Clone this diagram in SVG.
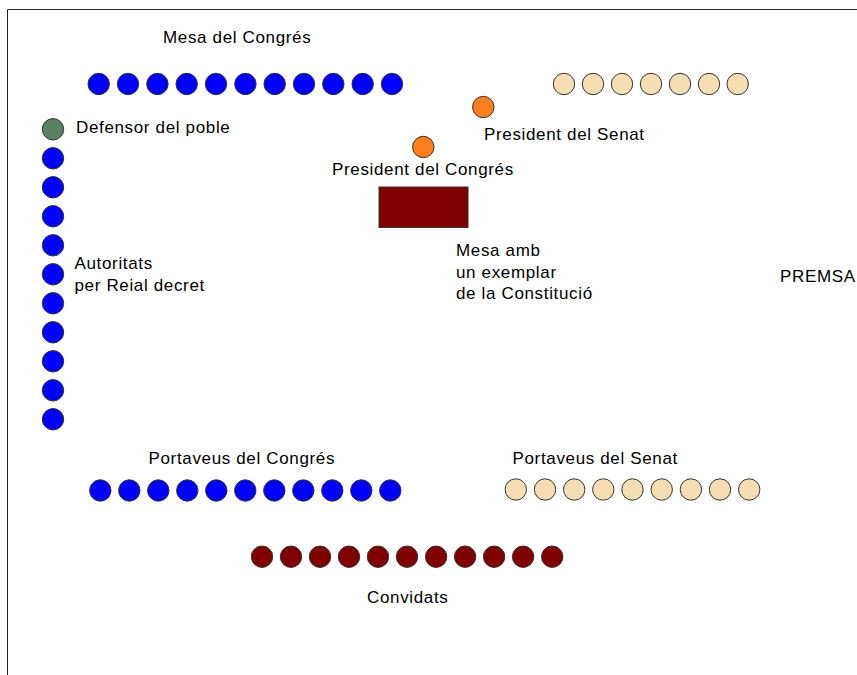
<svg xmlns="http://www.w3.org/2000/svg" width="857" height="675" viewBox="0 0 857 675">
<style>
text{font-family:"Liberation Sans",Arial,sans-serif;font-size:17px;letter-spacing:0.65px;fill:#000}
circle{stroke:#333;stroke-width:1;r:10.7px}
.b{fill:#0000ff}.w{fill:#f5deb3}.o{fill:#ff7f1f}.g{fill:#5a8262}.r{fill:#800000}
</style>
<rect width="857" height="675" fill="#fff"/>
<g id="frame"><path d="M7.5,675 V9.5 H857" fill="none" stroke="#222" stroke-width="1"/></g>
<g id="connectors"></g>
<g id="mesa-congres">
<text x="163" y="43">Mesa del Congrés</text>
<circle class="b" cx="98.7" cy="84" r="10.7"/><circle class="b" cx="128" cy="84" r="10.7"/><circle class="b" cx="157.4" cy="84" r="10.7"/><circle class="b" cx="186.7" cy="84" r="10.7"/><circle class="b" cx="216" cy="84" r="10.7"/><circle class="b" cx="245.4" cy="84" r="10.7"/><circle class="b" cx="274.7" cy="84" r="10.7"/><circle class="b" cx="304" cy="84" r="10.7"/><circle class="b" cx="333.3" cy="84" r="10.7"/><circle class="b" cx="362.7" cy="84" r="10.7"/><circle class="b" cx="392" cy="84" r="10.7"/>
</g>
<g id="mesa-senat">
<circle class="w" cx="564" cy="84" r="10.7"/><circle class="w" cx="593" cy="84" r="10.7"/><circle class="w" cx="622" cy="84" r="10.7"/><circle class="w" cx="651" cy="84" r="10.7"/><circle class="w" cx="680" cy="84" r="10.7"/><circle class="w" cx="709" cy="84" r="10.7"/><circle class="w" cx="737.7" cy="84" r="10.7"/>
</g>
<g id="president-senat">
<circle class="o" cx="483.3" cy="107" r="10.7"/>
<text x="484" y="140">President del Senat</text>
</g>
<g id="president-congres">
<circle class="o" cx="423.3" cy="147" r="10.7"/>
<text x="332" y="175">President del Congrés</text>
</g>
<g id="defensor">
<circle class="g" cx="53" cy="129.3" r="10.7"/>
<text x="76" y="133">Defensor del poble</text>
</g>
<g id="autoritats">
<circle class="b" cx="53" cy="158.3" r="10.7"/><circle class="b" cx="53" cy="187.3" r="10.7"/><circle class="b" cx="53" cy="216.3" r="10.7"/><circle class="b" cx="53" cy="245.3" r="10.7"/><circle class="b" cx="53" cy="274.3" r="10.7"/><circle class="b" cx="53" cy="303.3" r="10.7"/><circle class="b" cx="53" cy="332.3" r="10.7"/><circle class="b" cx="53" cy="361.3" r="10.7"/><circle class="b" cx="53" cy="390.3" r="10.7"/><circle class="b" cx="53" cy="419.3" r="10.7"/>
<text x="74.5" y="269">Autoritats</text>
<text x="74.5" y="291">per Reial decret</text>
</g>
<g id="mesa-constitucio">
<rect x="379" y="187" width="89" height="40.5" fill="#800000" stroke="#333" stroke-width="1"/>
<text x="456" y="256">Mesa amb</text>
<text x="456" y="277.5">un exemplar</text>
<text x="456" y="298.5">de la Constitució</text>
</g>
<g id="premsa"><text x="780" y="282">PREMSA</text></g>
<g id="portaveus-congres">
<text x="148.5" y="464">Portaveus del Congrés</text>
<circle class="b" cx="100.3" cy="490.5" r="10.7"/><circle class="b" cx="129.3" cy="490.5" r="10.7"/><circle class="b" cx="158.3" cy="490.5" r="10.7"/><circle class="b" cx="187.3" cy="490.5" r="10.7"/><circle class="b" cx="216.3" cy="490.5" r="10.7"/><circle class="b" cx="245.3" cy="490.5" r="10.7"/><circle class="b" cx="274.3" cy="490.5" r="10.7"/><circle class="b" cx="303.3" cy="490.5" r="10.7"/><circle class="b" cx="332.3" cy="490.5" r="10.7"/><circle class="b" cx="361.3" cy="490.5" r="10.7"/><circle class="b" cx="390.3" cy="490.5" r="10.7"/>
</g>
<g id="portaveus-senat">
<text x="512.5" y="464">Portaveus del Senat</text>
<circle class="w" cx="515.8" cy="489.5" r="10.7"/><circle class="w" cx="545" cy="489.5" r="10.7"/><circle class="w" cx="574.2" cy="489.5" r="10.7"/><circle class="w" cx="603.3" cy="489.5" r="10.7"/><circle class="w" cx="632.5" cy="489.5" r="10.7"/><circle class="w" cx="661.7" cy="489.5" r="10.7"/><circle class="w" cx="690.9" cy="489.5" r="10.7"/><circle class="w" cx="720" cy="489.5" r="10.7"/><circle class="w" cx="749.2" cy="489.5" r="10.7"/>
</g>
<g id="convidats">
<circle class="r" cx="262" cy="556.7" r="10.7"/><circle class="r" cx="291" cy="556.7" r="10.7"/><circle class="r" cx="320" cy="556.7" r="10.7"/><circle class="r" cx="349" cy="556.7" r="10.7"/><circle class="r" cx="378" cy="556.7" r="10.7"/><circle class="r" cx="407" cy="556.7" r="10.7"/><circle class="r" cx="436.1" cy="556.7" r="10.7"/><circle class="r" cx="465.1" cy="556.7" r="10.7"/><circle class="r" cx="494.1" cy="556.7" r="10.7"/><circle class="r" cx="523.1" cy="556.7" r="10.7"/><circle class="r" cx="552.2" cy="556.7" r="10.7"/>
<text x="367" y="603">Convidats</text>
</g>
</svg>
